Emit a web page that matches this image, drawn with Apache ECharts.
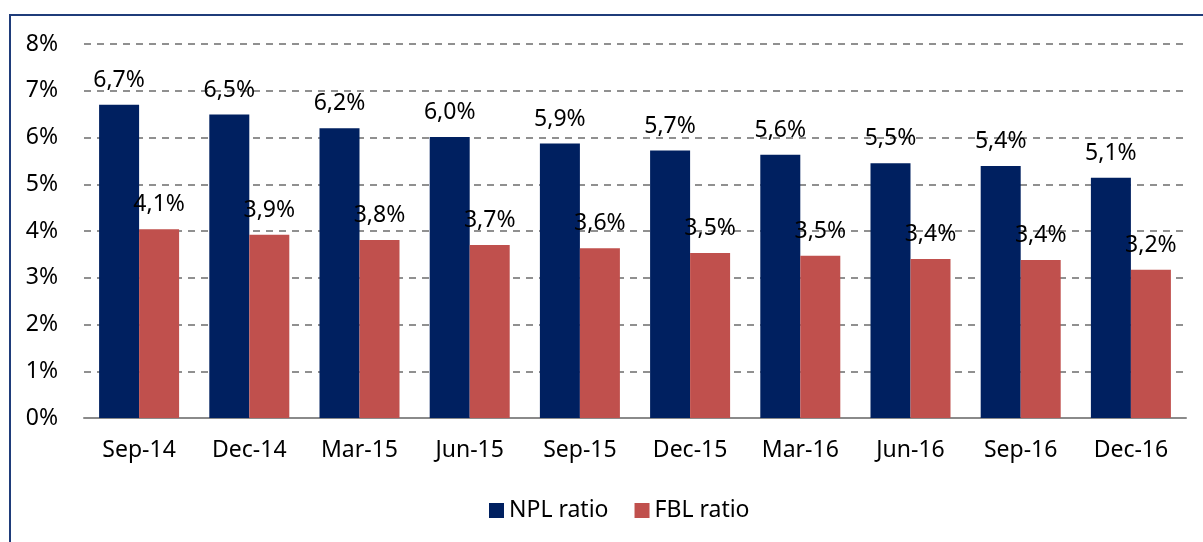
<!DOCTYPE html>
<html>
<head>
<meta charset="utf-8">
<script src="https://cdn.jsdelivr.net/npm/echarts@6/dist/echarts.min.js"></script>
<style>
  html, body { margin: 0; padding: 0; background: #fff; }
  #chart { width: 1203px; height: 542px; }
</style>
</head>
<body>
<div id="chart"></div>
<script>
/* 数据：季度、NPL / FBL 比率 (%) */
var categories = ['Sep-14', 'Dec-14', 'Mar-15', 'Jun-15', 'Sep-15', 'Dec-15', 'Mar-16', 'Jun-16', 'Sep-16', 'Dec-16'];
var nplValues = [6.70, 6.49, 6.20, 6.01, 5.87, 5.72, 5.63, 5.45, 5.39, 5.14];
var fblValues = [4.04, 3.92, 3.81, 3.70, 3.63, 3.53, 3.47, 3.40, 3.38, 3.17];
var nplLabels = ['6,7%', '6,5%', '6,2%', '6,0%', '5,9%', '5,7%', '5,6%', '5,5%', '5,4%', '5,1%'];
var fblLabels = ['4,1%', '3,9%', '3,8%', '3,7%', '3,6%', '3,5%', '3,5%', '3,4%', '3,4%', '3,2%'];
var seriesNames = ['NPL ratio', 'FBL ratio'];
var yTicks = [0, 1, 2, 3, 4, 5, 6, 7, 8];

var font = '"Noto Sans", "Open Sans", sans-serif';
var myChart = echarts.init(document.getElementById('chart'));

function barLabel(labels) {
    return {
        show: true,
        position: 'top',
        distance: 13,
        color: '#000',
        fontSize: 23,
        fontFamily: font,
        formatter: function (p) { return labels[p.dataIndex]; }
    };
}

var option = {
    animation: false,
    color: ['#002060', '#C0504D'],
    graphic: [{
        type: 'polyline',
        shape: { points: [[10, 600], [10, 15], [1210, 15]] },
        style: { stroke: '#1F3C7A', lineWidth: 2, fill: null },
        silent: true
    }],
    legend: {
        data: seriesNames,
        left: 484,
        top: 494,
        itemWidth: 15,
        itemHeight: 15,
        itemGap: 26,
        icon: 'rect',
        textStyle: { fontSize: 23, fontFamily: font, color: '#000' }
    },
    grid: { left: 84, right: 17, top: 44, bottom: 124 },
    xAxis: {
        type: 'category',
        data: categories,
        axisLine: { lineStyle: { color: '#8a8a8a', width: 2 } },
        axisTick: { show: false },
        axisLabel: { fontSize: 23, fontFamily: font, color: '#000', margin: 21 }
    },
    yAxis: {
        type: 'value',
        min: yTicks[0],
        max: yTicks[yTicks.length - 1],
        interval: 1,
        axisLine: { show: false },
        axisTick: { show: false },
        axisLabel: {
            fontSize: 23, fontFamily: font, color: '#000', margin: 26,
            formatter: function (v) { return v + '%'; }
        },
        splitLine: { lineStyle: { color: '#909090', width: 2, type: [7, 6] } }
    },
    series: [{
        name: seriesNames[0],
        type: 'bar',
        data: nplValues,
        barGap: '0%',
        barCategoryGap: '27.4%',
        label: barLabel(nplLabels)
    }, {
        name: seriesNames[1],
        type: 'bar',
        data: fblValues,
        label: barLabel(fblLabels)
    }]
};
myChart.setOption(option);
</script>
</body>
</html>
